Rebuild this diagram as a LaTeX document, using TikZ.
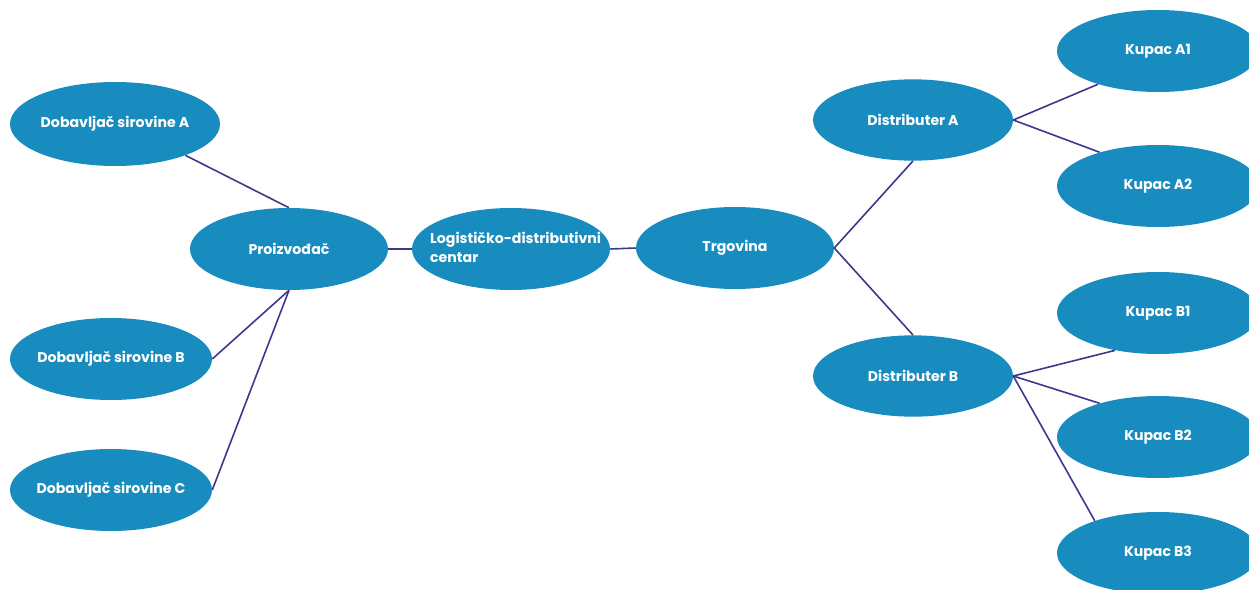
\documentclass[tikz,border=0pt]{standalone}
\usepackage{fontspec}
\setmainfont{Poppins}
\usetikzlibrary{shapes.geometric}
\definecolor{nodefill}{RGB}{24,140,190}
\definecolor{linkcol}{RGB}{62,56,140}
\newcommand{\zw}[1]{\makebox[0pt][c]{#1}}
\begin{document}
\begin{tikzpicture}[x=0.75pt,y=-0.75pt,
  bub/.style={ellipse,fill=nodefill,draw=none,inner sep=0pt,text=white,
    font=\fontsize{10.6}{14}\selectfont\bfseries,minimum width=151.5pt,minimum height=61.5pt},
  link/.style={draw=linkcol,line width=1.2pt}]
\useasboundingbox (0,0) rectangle (1249,589);
\node[bub,minimum width=157.5pt,minimum height=63pt] (dobA) at (115,124) {\zw{Dobavljač sirovine A}};
\node[bub] (dobB) at (111,359) {\zw{Dobavljač sirovine B}};
\node[bub] (dobC) at (111,490) {\zw{Dobavljač sirovine C}};
\node[bub,minimum width=148.5pt] (proiz) at (289,249) {\zw{Proizvođač}};
\node[bub,minimum width=148.5pt] (log) at (511,249) {\zw{\hspace{7pt}\begin{tabular}{@{}l@{}}Logističko-distributivni\\centar\end{tabular}}};
\node[bub,minimum width=148.5pt] (trg) at (735,248) {\zw{Trgovina}};
\node[bub,minimum width=150pt,minimum height=61pt] (distA) at (913,120) {\zw{Distributer A}};
\node[bub,minimum width=150pt,minimum height=61pt] (distB) at (913,376) {\zw{Distributer B}};
\node[bub] (kA1) at (1158,51) {\zw{Kupac A1}};
\node[bub] (kA2) at (1158,186) {\zw{Kupac A2}};
\node[bub] (kB1) at (1158,313) {\zw{Kupac B1}};
\node[bub] (kB2) at (1158,437) {\zw{Kupac B2}};
\node[bub] (kB3) at (1158,553) {\zw{Kupac B3}};
\draw[link] (dobA.-24) -- (proiz.north);
\draw[link] (dobB.east) -- (proiz.south);
\draw[link] (dobC.east) -- (proiz.south);
\draw[link] (proiz.east) -- (log.west);
\draw[link] (log.east) -- (trg.west);
\draw[link] (trg.east) -- (distA.south);
\draw[link] (trg.east) -- (distB.north);
\draw[link] (distA.east) -- (kA1.209);
\draw[link] (distA.east) -- (kA2.150);
\draw[link] (distB.east) -- (kB1.221);
\draw[link] (distB.east) -- (kB2.150);
\draw[link] (distB.east) -- (kB3.153);
\end{tikzpicture}
\end{document}
